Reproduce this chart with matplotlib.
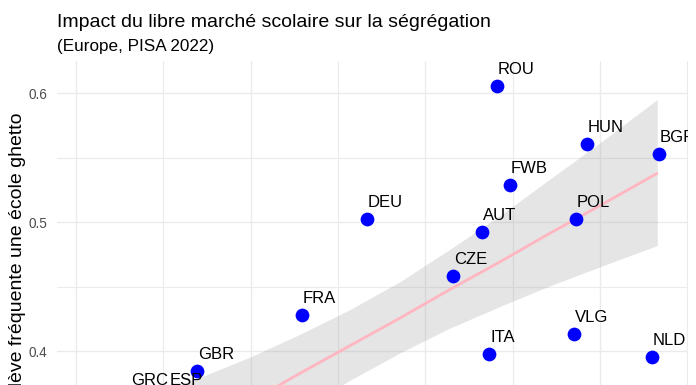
import matplotlib
matplotlib.use("Agg")
import matplotlib.pyplot as plt

plt.rcParams["font.family"] = ["Liberation Sans", "DejaVu Sans"]

# Pays et valeurs (x : indice de libre marché, y : ségrégation)
countries = ["ROU", "HUN", "BGR", "FWB", "POL", "AUT", "CZE", "ITA", "VLG", "NLD",
             "DEU", "FRA", "GBR", "GRC", "ESP"]
x_vals = [0.441, 0.4925, 0.5336, 0.4486, 0.4862, 0.4326, 0.4158, 0.4366, 0.4849, 0.5297,
          0.3664, 0.3293, 0.2694, 0.2309, 0.2530]
y_vals = [0.6057, 0.5609, 0.5529, 0.5289, 0.5023, 0.4927, 0.4581, 0.3979, 0.4134, 0.3958,
          0.5026, 0.4279, 0.3845, 0.3646, 0.3646]

# droite de régression et intervalle de confiance
fit_x = [0.231, 0.271, 0.300, 0.328, 0.357, 0.386, 0.414, 0.443, 0.471, 0.500, 0.533]
fit_y = [0.3090, 0.3394, 0.3611, 0.3828, 0.4045, 0.4262, 0.4479, 0.4696, 0.4913, 0.5130, 0.5382]
fit_hi = [0.3584, 0.3793, 0.3952, 0.4125, 0.4319, 0.4538, 0.4784, 0.5048, 0.5326, 0.5611, 0.5948]
fit_lo = [0.2595, 0.2995, 0.3270, 0.3531, 0.3771, 0.3986, 0.4174, 0.4344, 0.4501, 0.4650, 0.4816]

y_major = [0.4, 0.5, 0.6]
y_minor = [0.35, 0.45, 0.55]
x_major = [0.2, 0.3, 0.4, 0.5]
x_minor = [0.25, 0.35, 0.45, 0.55]

W, H = 696, 385
TOP = 61  # top of the panel in pixels; the panel runs past the bottom edge (cropped chart)
fig = plt.figure(figsize=(W / 100, H / 100), dpi=100)
ax = fig.add_axes([57 / W, 0, (688 - 57) / W, (H - TOP) / H])

for s in ax.spines.values():
    s.set_visible(False)
ax.set_xticks(x_major)
ax.set_xticks(x_minor, minor=True)
ax.set_yticks(y_major)
ax.set_yticks(y_minor, minor=True)
ax.set_yticklabels([f"{v:.1f}" for v in y_major])
ax.set_xticklabels([])
# limits after the ticks, set_ticks would widen them
ax.set_xlim(0.1891, 0.5503)
ax.set_ylim(0.6 - (385 - 93.3) / 1290, 0.6 + (93.3 - TOP) / 1290)
ax.tick_params(which="both", length=0)
ax.tick_params(axis="y", labelsize=9.8, labelcolor="#4D4D4D", pad=7)
ax.grid(True, which="major", color="#EBEBEB", lw=1.0)
ax.grid(True, which="minor", color="#EBEBEB", lw=0.8)
ax.set_axisbelow(True)

ax.fill_between(fit_x, fit_lo, fit_hi, color="#999999", alpha=0.25, lw=0, zorder=2)
ax.plot(fit_x, fit_y, color="#FFB6C1", lw=2.0, zorder=3, solid_capstyle="butt")

ax.scatter(x_vals, y_vals, s=98, color="blue", lw=0, zorder=4)
for c, x, y in zip(countries, x_vals, y_vals):
    ax.annotate(c, (x, y), xytext=(0.5, 8.6), textcoords="offset points",
                ha="left", va="baseline", fontsize=12, color="black",
                annotation_clip=False, clip_on=True, zorder=5)

fig.text(57 / W, 1 - 27 / H, "Impact du libre marché scolaire sur la ségrégation",
         fontsize=14, color="black", ha="left", va="baseline")
fig.text(57 / W, 1 - 51 / H, "(Europe, PISA 2022)",
         fontsize=12.3, color="black", ha="left", va="baseline")
fig.text(26 / W, 1 - 113 / H, "Probabilité qu'un élève fréquente une école ghetto",
         rotation=90, fontsize=14, ha="right", va="top", rotation_mode="default")

fig.savefig("out.png", dpi=100)
